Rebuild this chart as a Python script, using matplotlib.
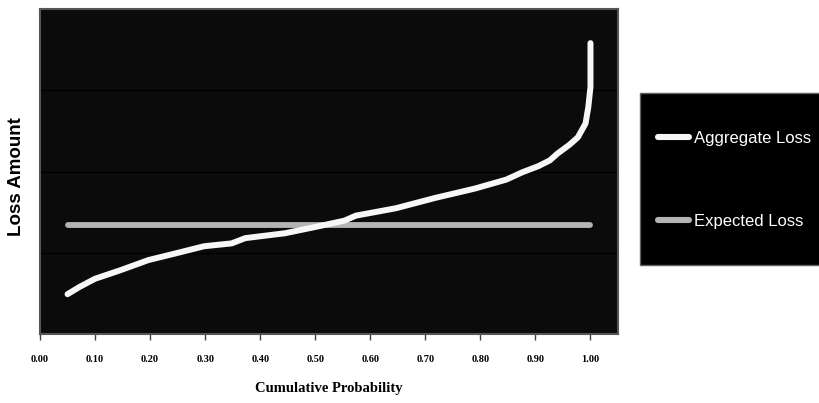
import matplotlib
matplotlib.use("Agg")
import matplotlib.pyplot as plt
from matplotlib.lines import Line2D
from matplotlib.patches import Rectangle

# Data (y in arbitrary "loss" units, axis 0..4)
cum_prob = [0.05, 0.072, 0.10, 0.144, 0.197, 0.251, 0.298, 0.348, 0.373, 0.445,
            0.502, 0.553, 0.574, 0.646, 0.718, 0.79, 0.847, 0.876, 0.905, 0.926,
            0.94, 0.962, 0.977, 0.991, 0.996, 1.0, 1.0]
aggregate_loss = [0.49, 0.58, 0.68, 0.78, 0.91, 1.00, 1.08, 1.115, 1.18, 1.24,
                  1.32, 1.395, 1.457, 1.547, 1.675, 1.79, 1.90, 1.99, 2.065, 2.136,
                  2.22, 2.33, 2.42, 2.59, 2.79, 3.04, 3.58]
expected_x = [0.05, 1.0]
expected_loss = [1.345, 1.345]
x_ticks = [0.0, 0.1, 0.2, 0.3, 0.4, 0.5, 0.6, 0.7, 0.8, 0.9, 1.0]
x_tick_labels = ["0.00", "0.10", "0.20", "0.30", "0.40", "0.50",
                 "0.60", "0.70", "0.80", "0.90", "1.00"]
y_grid = [1, 2, 3]
series_names = ["Aggregate Loss", "Expected Loss"]

W, H = 820, 403
fig = plt.figure(figsize=(W / 100, H / 100), dpi=100)
fig.patch.set_facecolor("white")

ax = fig.add_axes([40 / W, 1 - 334 / H, (618 - 40) / W, (334 - 9) / H])
ax.set_facecolor("#0b0b0b")
ax.set_xlim(0, 1.05)
ax.set_ylim(0, 4)

for g in y_grid:
    ax.axhline(g, color="black", lw=1.0, zorder=1)

agg_color = "#f7f7f7"
exp_color = "#b4b4b4"
ax.plot(expected_x, expected_loss, color=exp_color, lw=4.2,
        solid_capstyle="round", zorder=3)
ax.plot(cum_prob, aggregate_loss, color=agg_color, lw=4.3,
        solid_capstyle="round", solid_joinstyle="round", zorder=4)

ax.set_xticks(x_ticks)
ax.set_xticklabels(x_tick_labels, fontsize=7.5, fontweight="bold",
                   family=["Liberation Serif", "DejaVu Serif"])
ax.set_yticks([])
ax.tick_params(axis="x", direction="out", length=4, width=1,
               color="#404040", pad=11)
for s in ax.spines.values():
    s.set_color("#555555")
    s.set_linewidth(1.5)

ax.set_xlabel("Cumulative Probability", fontsize=10.5, fontweight="bold",
              family=["Liberation Serif", "DejaVu Serif"], labelpad=13)
fig.text(17 / W, 1 - 177 / H, "Loss Amount", rotation=90, ha="center",
         va="center", fontsize=13.5, fontweight="bold",
         family=["Liberation Sans", "DejaVu Sans"])

# Legend box
fig.patches.append(Rectangle((640 / W, 1 - 265 / H), 200 / W, (265 - 93) / H,
                             transform=fig.transFigure, facecolor="black",
                             edgecolor="#606060", lw=1.0, zorder=0))
handles = [Line2D([], [], color=agg_color, lw=4.4, solid_capstyle="round"),
           Line2D([], [], color=exp_color, lw=4.4, solid_capstyle="round")]
leg = fig.legend(handles, series_names, loc="upper left",
                 bbox_to_anchor=(658 / W, 1 - 131 / H), frameon=False,
                 prop={"family": ["Liberation Sans", "DejaVu Sans"],
                       "size": 12},
                 handlelength=1.85, handletextpad=0.3, labelspacing=4.08,
                 borderpad=0, borderaxespad=0)
for t in leg.get_texts():
    t.set_color("white")

fig.savefig("out.png", dpi=100, facecolor="white")
